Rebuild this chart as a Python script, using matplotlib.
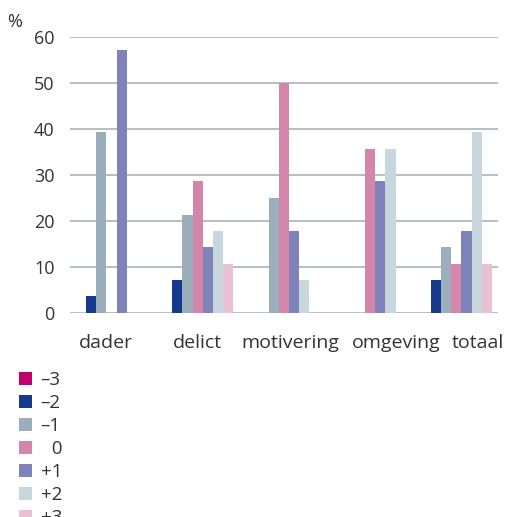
import numpy as np
import matplotlib.pyplot as plt
from matplotlib.patches import Patch

plt.rcParams['font.family'] = ['Open Sans', 'DejaVu Sans']

categories = ["dader", "delict", "motivering", "omgeving", "totaal"]
series = ["\u20133", "\u20132", "\u20131", "\u20070", "+1", "+2", "+3"]

# percentages per score, one list per category
dader      = [0.0, 3.6, 39.3, 0.0, 57.1, 0.0, 0.0]
delict     = [0.0, 7.1, 21.4, 28.6, 14.3, 17.9, 10.7]
motivering = [0.0, 0.0, 25.0, 50.0, 17.9, 7.1, 0.0]
omgeving   = [0.0, 0.0, 0.0, 35.7, 28.6, 35.7, 0.0]
totaal     = [0.0, 7.1, 14.3, 10.7, 17.9, 39.3, 10.7]

colors = ["#C0006F", "#163A8C", "#9AAFBB", "#D486AA", "#8083B9", "#C8D6DE", "#E9C1D3"]
text_col = "#333333"
grid_col = "#9FAEB9"

values = np.array([dader, delict, motivering, omgeving, totaal])

fig = plt.figure(figsize=(5.09, 5.17), dpi=100)
ax = fig.add_axes([0.1375, 0.3946, 0.8409, 0.5338])

group_gap = 8.45
centers = np.arange(len(categories)) * group_gap
for j in range(len(series)):
    ax.bar(centers + (j - 3), values[:, j], width=1.0, color=colors[j], zorder=3)

ax.set_ylim(0, 60)
ax.set_xlim(-4.07, -4.07 + 41.96)
ax.set_yticks(range(0, 61, 10))
ax.yaxis.grid(True, color=grid_col, linewidth=1.1, zorder=0)
ax.set_axisbelow(True)
for s in ax.spines.values():
    s.set_visible(False)
ax.tick_params(axis='y', length=0, pad=11, labelsize=13, labelcolor=text_col)
ax.set_xticks([])

# category labels (not centred on the groups in the original)
label_shift = [-0.55, -0.05, 0.65, 2.6, 2.1]
for c, name, dx in zip(centers, categories, label_shift):
    ax.text(c + dx, -7.6, name, ha='center', va='baseline', fontsize=14, color=text_col)

fig.text(15 / 509, 1 - 22 / 517, "%", ha='center', va='center', fontsize=13, color=text_col)

handles = [Patch(facecolor=c, edgecolor='none') for c in colors]
fig.legend(handles, series, loc='upper left', bbox_to_anchor=(19 / 509, 1 - 371 / 517),
           frameon=False, fontsize=13.5, handlelength=0.7, handleheight=0.7,
           handletextpad=0.45, labelspacing=0.27, borderaxespad=0, borderpad=0,
           labelcolor=text_col)

fig.savefig("out.png", dpi=100)
